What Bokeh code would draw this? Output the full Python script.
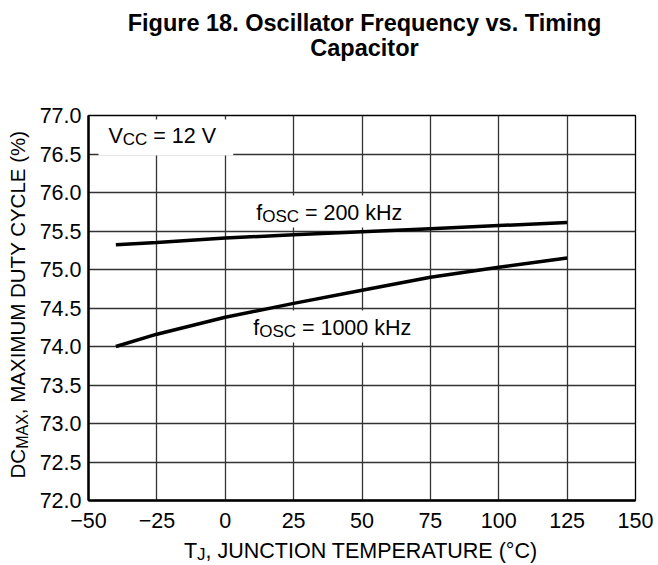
import math
from bokeh.plotting import figure
from bokeh.layouts import column, row
from bokeh.models import Label, BoxAnnotation, FixedTicker, Range1d
from bokeh.embed import file_html
from bokeh.resources import INLINE

# ---------------- data ----------------
temps = [-40, -25, 0, 25, 50, 75, 100, 125]
dc_200khz = [75.32, 75.35, 75.41, 75.45, 75.49, 75.53, 75.57, 75.61]
dc_1000khz = [74.00, 74.16, 74.38, 74.56, 74.73, 74.90, 75.03, 75.15]

x_ticks = [-50, -25, 0, 25, 50, 75, 100, 125, 150]
x_tick_labels = ["\u221250", "\u221225", "0", "25", "50", "75", "100", "125", "150"]
y_ticks = [72.0, 72.5, 73.0, 73.5, 74.0, 74.5, 75.0, 75.5, 76.0, 76.5, 77.0]
y_tick_labels = ["72.0", "72.5", "73.0", "73.5", "74.0", "74.5", "75.0", "75.5", "76.0", "76.5", "77.0"]

title_lines = ["Figure 18. Oscillator Frequency vs. Timing", "Capacitor"]
y_label_parts = [("DC", False), ("MAX", True), (", MAXIMUM DUTY CYCLE (%)", False)]
x_label_parts = [("T", False), ("J", True), (", JUNCTION TEMPERATURE (\u00b0C)", False)]
vcc_parts = [("V", False), ("CC", True), (" = 12 V", False)]
f200_parts = [("f", False), ("OSC", True), (" = 200 kHz", False)]
f1000_parts = [("f", False), ("OSC", True), (" = 1000 kHz", False)]

X_MIN, X_MAX = -50, 150
Y_MIN, Y_MAX = 72.0, 77.0

# ---------------- layout (picture px) ----------------
W, H = 658, 565
FL, FR, FT, FB = 87, 635, 115, 500      # plot frame edges
TITLE_H = 70
YLAB_W = 36
XLAB_H = 29
MAIN_H = H - TITLE_H - XLAB_H
FONT = "Liberation Sans"
MAIN = 21.5
SUB = 17.0
SUB_SHIFT = 3.5
YL_MAIN = 20.5
YL_SUB = 16.0

ARIAL = {' ': 278, ',': 278, '(': 333, ')': 333, '%': 889, '=': 584, '\u00b0': 400,
         '.': 278, 'A': 667, 'C': 722, 'D': 722, 'E': 667, 'H': 722, 'I': 278, 'J': 500,
         'L': 556, 'M': 833, 'N': 722, 'O': 778, 'P': 667, 'R': 722, 'S': 667, 'T': 611,
         'U': 722, 'V': 667, 'X': 667, 'Y': 667, 'f': 278, 'k': 500, 'z': 500}


def tw(s, size):
    return sum(ARIAL.get(c, 556) for c in s) * size / 1000.0


# ---------------- main plot ----------------
p = figure(width=W - YLAB_W, height=MAIN_H,
           x_range=Range1d(X_MIN, X_MAX), y_range=Range1d(Y_MIN, Y_MAX),
           output_backend="svg", toolbar_location=None,
           min_border_left=FL - YLAB_W, min_border_right=W - FR,
           min_border_top=FT - TITLE_H, min_border_bottom=(TITLE_H + MAIN_H) - FB)
p.title = None
p.background_fill_color = "white"
p.border_fill_color = "white"
p.outline_line_color = "black"
p.outline_line_width = 1.3

p.xaxis.ticker = FixedTicker(ticks=x_ticks)
p.yaxis.ticker = FixedTicker(ticks=y_ticks)
p.xaxis.major_label_overrides = dict(zip(x_ticks, x_tick_labels))
p.yaxis.major_label_overrides = dict(zip(y_ticks, y_tick_labels))
for ax in (p.xaxis, p.yaxis):
    ax.axis_line_color = "black"
    ax.axis_line_width = 2.5
    ax.major_tick_in = 0
    ax.major_tick_out = 0
    ax.minor_tick_in = 0
    ax.minor_tick_out = 0
    ax.major_label_text_font = FONT
    ax.major_label_text_font_size = f"{MAIN}px"
    ax.major_label_text_color = "black"
p.yaxis.major_label_standoff = 7
p.xaxis.major_label_standoff = 12

p.xgrid.ticker = FixedTicker(ticks=x_ticks)
p.ygrid.ticker = FixedTicker(ticks=y_ticks)
for g in (p.xgrid, p.ygrid):
    g.grid_line_color = "#333333"
    g.grid_line_width = 1.3
    g.grid_line_alpha = 1.0


def px_x(px):
    return X_MIN + (px - FL) * (X_MAX - X_MIN) / (FR - FL)


def px_y(py):
    return Y_MAX - (py - FT) * (Y_MAX - Y_MIN) / (FB - FT)


def add_text(fig, text, x, y, size, angle=0.0, align="left", baseline="alphabetic",
             bold=False, conv=None):
    if conv is not None:
        x, y = conv[0](x), conv[1](y)
    fig.add_layout(Label(x=x, y=y, text=text, angle=angle,
                         text_font=FONT, text_font_size=f"{size}px",
                         text_font_style="bold" if bold else "normal",
                         text_color="black", text_align=align,
                         text_baseline=baseline))


def rich(fig, parts, x0, y0, center=False, conv=None):
    """Horizontal text with subscripts."""
    total = sum(tw(t, SUB if s else MAIN) for t, s in parts)
    pos = -total / 2 if center else 0.0
    for t, s in parts:
        size = SUB if s else MAIN
        stripped = t.lstrip(" ")
        pos += tw(t[:len(t) - len(stripped)], size)
        shift = SUB_SHIFT if s else 0.0
        add_text(fig, stripped, x0 + pos, y0 + shift, size, conv=conv)
        pos += tw(stripped, size)


def rich_vertical(fig, parts, base_x, yc):
    """Text rotated 90 deg (reads bottom to top); each piece anchored at its centre.
    fig's data coordinates equal picture pixels."""
    total = sum(tw(t, YL_SUB if s else YL_MAIN) for t, s in parts)
    pos = -total / 2
    for t, s in parts:
        size = YL_SUB if s else YL_MAIN
        stripped = t.lstrip(" ")
        pos += tw(t[:len(t) - len(stripped)], size)
        w = tw(stripped, size)
        shift = SUB_SHIFT if s else 0.0
        cx = base_x + shift - 0.3465 * size
        cy = yc - (pos + w / 2)
        add_text(fig, stripped, cx, cy, size, angle=math.pi / 2,
                 align="center", baseline="middle")
        pos += w


def white_box(l, r, t, b):
    p.add_layout(BoxAnnotation(left=px_x(l), right=px_x(r), top=px_y(t), bottom=px_y(b),
                               fill_color="white", fill_alpha=1.0, line_color=None,
                               level="underlay"))


# curves
p.line(temps, dc_200khz, line_width=3.5, line_color="black")
p.line(temps, dc_1000khz, line_width=3.5, line_color="black")

# in-plot annotations
CONV = (px_x, px_y)
white_box(97, 232, 119, 155)
rich(p, vcc_parts, 107, 135, conv=CONV)
white_box(246, 412, 195, 227)
rich(p, f200_parts, 255, 212, conv=CONV)
white_box(244, 428, 310, 342)
rich(p, f1000_parts, 252, 327, conv=CONV)


# ---------------- text strips ----------------
def strip(w, h, yr=None, top=0, bottom=0):
    f = figure(width=w, height=h, x_range=Range1d(0, w),
               y_range=yr if yr is not None else Range1d(h, 0),
               output_backend="svg", toolbar_location=None,
               x_axis_type=None, y_axis_type=None, min_border=0,
               min_border_top=top, min_border_bottom=bottom)
    f.title = None
    f.outline_line_color = None
    f.background_fill_color = "white"
    f.border_fill_color = "white"
    f.xgrid.visible = False
    f.ygrid.visible = False
    return f


title_fig = strip(W, TITLE_H)
add_text(title_fig, title_lines[0], 364, 22, 23.5, align="center", bold=True)
add_text(title_fig, title_lines[1], 364, 47, 23.5, align="center", bold=True)

# y-label strip: its frame lines up with the main frame, data y = picture px
ylab_fig = strip(YLAB_W, MAIN_H, yr=Range1d(FB, FT),
                 top=FT - TITLE_H, bottom=(TITLE_H + MAIN_H) - FB)
rich_vertical(ylab_fig, y_label_parts, 24, 304)

xlab_fig = strip(W, XLAB_H)
rich(xlab_fig, x_label_parts, (FL + FR) / 2, 550 - (TITLE_H + MAIN_H), center=True)

layout = column(title_fig, row(ylab_fig, p), xlab_fig)

open("out.html", "w").write(file_html(layout, INLINE))
